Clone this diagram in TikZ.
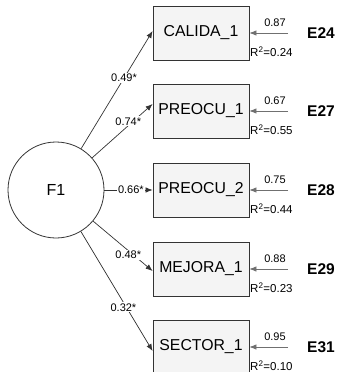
\documentclass[tikz,border=0pt]{standalone}
\usepackage{fontspec}
\setmainfont{Liberation Sans}
\usetikzlibrary{arrows.meta}
\definecolor{boxfill}{HTML}{F4F4F4}
\definecolor{edge}{HTML}{333333}
\definecolor{errc}{HTML}{707070}
\begin{document}
\begin{tikzpicture}[x=1pt,y=-1pt,
  obs/.style={draw=edge,line width=0.8pt,fill=boxfill,minimum width=96pt,minimum height=54pt,inner sep=0pt,font=\fontsize{15.8}{15.8}\selectfont},
  lat/.style={draw=edge,line width=0.8pt,circle,minimum size=96pt,inner sep=0pt,font=\fontsize{16}{16}\selectfont},
  path/.style={draw=edge,line width=0.7pt,-{Latex[length=7pt,width=5.5pt]}},
  errarr/.style={draw=errc,line width=0.8pt,-{Latex[length=7pt,width=5.5pt]}},
  coef/.style={fill=white,inner sep=1pt,font=\fontsize{11}{11}\selectfont},
  val/.style={inner sep=0pt,font=\fontsize{11}{11}\selectfont},
  rsq/.style={inner sep=0pt,anchor=west,font=\fontsize{11.5}{11.5}\selectfont},
  elab/.style={inner sep=0pt,anchor=west,font=\fontsize{15.5}{15.5}\selectfont\bfseries}
]
\useasboundingbox (0,0) rectangle (340,372);
\node[lat] (F1) at (56,190) {F1};
\node[obs] (b1) at (201,33) {CALIDA\_1};
\node[obs] (b2) at (201,111) {PREOCU\_1};
\node[obs] (b3) at (201,190) {PREOCU\_2};
\node[obs] (b4) at (201,269) {MEJORA\_1};
\node[obs] (b5) at (201,347) {SECTOR\_1};
% paths
\draw[path] (F1) -- ([yshift=2pt]b1.west) node[coef,pos=0.6] {0.49*};
\draw[path] (F1) -- ([yshift=7pt]b2.west) node[coef,pos=0.68,xshift=-5pt] {0.74*};
\draw[path] (F1) -- (b3.west) node[coef,pos=0.55] {0.66*};
\draw[path] (F1) -- ([yshift=-2pt]b4.west) node[coef,pos=0.675,xshift=-5pt] {0.48*};
\draw[path] (F1) -- ([yshift=-4pt]b5.west) node[coef,pos=0.635,xshift=-3pt] {0.32*};
% errors
\foreach \i/\y/\v/\r/\e in {1/33/0.87/0.24/E24,2/111/0.67/0.55/E27,3/190/0.75/0.44/E28,4/269/0.88/0.23/E29,5/347/0.95/0.10/E31}{
  \coordinate (c\i) at (288,\y);
  \draw[errarr] (c\i) -- (b\i.east);
  \node[val] (v\i) at (275,\y-10) {\v};
  \node[rsq] (r\i) at (250,\y+18.5) {R\textsuperscript{2}=\r};
  \node[elab] (e\i) at (307,\y) {\e};
}
\end{tikzpicture}
\end{document}
